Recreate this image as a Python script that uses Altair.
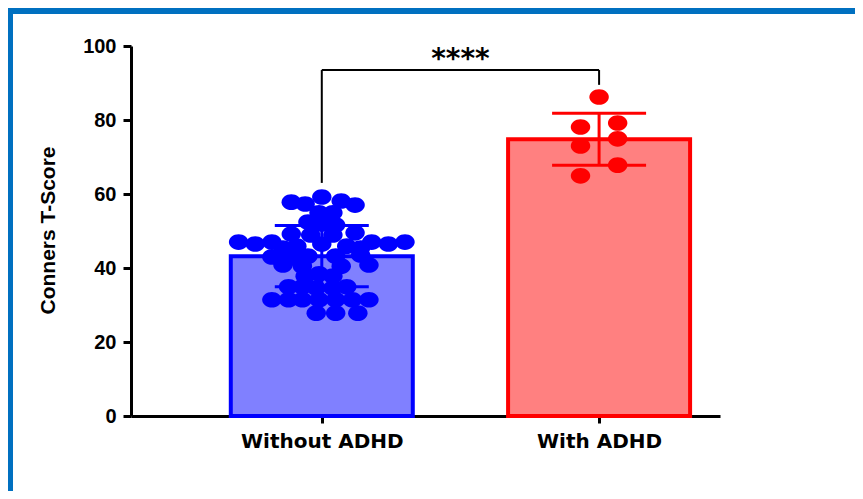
import altair as alt
import pandas as pd

# ---------------- data ----------------
groups = ["Without ADHD", "With ADHD"]
group_pos = [1, 2]
group_mean = [43.2, 74.8]
group_sd = [8.3, 7.0]
fill_colors = ["#8080FF", "#FF8080"]
line_colors = ["#0000FF", "#FF0000"]

without_scores = [57.8, 57.3, 59.2, 58.1, 57.0, 54.9, 54.9,
                  52.4, 51.9, 51.6,
                  49.2, 49.5, 48.9, 48.9,
                  47.0, 46.5, 47.0, 47.0, 46.5, 47.0,
                  45.4, 45.9, 45.9, 45.4, 46.5,
                  43.0, 42.7, 43.2, 43.2, 43.5,
                  40.8, 40.5, 40.5, 40.8,
                  37.8, 38.4, 37.8,
                  34.9, 34.9, 34.6, 34.6, 34.9,
                  31.4, 31.4, 31.4, 31.4, 31.4, 31.4, 31.4,
                  27.8, 27.8, 27.8]
without_offsets = [-0.11, -0.06, 0.00, 0.07, 0.12, -0.01, 0.04,
                   -0.05, 0.00, 0.05,
                   -0.11, 0.12, -0.04, 0.04,
                   -0.30, -0.24, -0.18, 0.18, 0.24, 0.30,
                   -0.14, -0.09, 0.09, 0.14, 0.00,
                   -0.18, -0.11, -0.05, 0.05, 0.14,
                   -0.14, -0.07, 0.07, 0.17,
                   -0.06, -0.01, 0.04,
                   -0.12, -0.07, -0.02, 0.04, 0.09,
                   -0.18, -0.12, -0.07, -0.01, 0.05, 0.11, 0.17,
                   -0.02, 0.05, 0.13]
with_scores = [86.2, 78.1, 79.2, 73.0, 74.9, 67.8, 64.9]
with_offsets = [0.0, -0.067, 0.067, -0.067, 0.067, 0.067, -0.067]

sig_label = "****"
bracket_level = 93.5
bracket_left_end = 63.0
bracket_right_end = 89.5

y_ticks = [0, 20, 40, 60, 80, 100]
y_title = "Conners T-Score"

# ---------------- tables ----------------
points = pd.DataFrame({
    "group": [groups[0]] * len(without_scores) + [groups[1]] * len(with_scores),
    "pos": [group_pos[0]] * len(without_scores) + [group_pos[1]] * len(with_scores),
    "offset": without_offsets + with_offsets,
    "score": without_scores + with_scores,
})
summary = pd.DataFrame({"group": groups, "pos": group_pos,
                        "mean": group_mean, "sd": group_sd})
bracket = pd.DataFrame({
    "x1": [group_pos[0], group_pos[0], group_pos[1]],
    "x2": [group_pos[1], group_pos[0], group_pos[1]],
    "y1": [bracket_level, bracket_left_end, bracket_right_end],
    "y2": [bracket_level, bracket_level, bracket_level],
})
sig = pd.DataFrame({"x": [sum(group_pos) / 2], "y": [bracket_level], "label": [sig_label]})

label_expr = "datum.value == %d ? '%s' : '%s'" % (group_pos[0], groups[0], groups[1])

x_scale = alt.Scale(domain=[0.33, 2.418], nice=False, zero=False)
y_scale = alt.Scale(domain=[0, 100], nice=False)

x_axis = alt.Axis(values=group_pos, labelExpr=label_expr, title=None, grid=False,
                  domainColor="black", domainWidth=3, tickColor="black", tickWidth=3,
                  tickSize=7, labelFont="DejaVu Sans", labelFontWeight="bold",
                  labelFontSize=20, labelColor="black", labelPadding=8, labelFlush=False)
y_axis = alt.Axis(values=y_ticks, title=y_title, grid=False,
                  domainColor="black", domainWidth=3, tickColor="black", tickWidth=3,
                  tickSize=8, labelFont="Liberation Sans", labelFontWeight="bold",
                  labelFontSize=20, labelColor="black", labelPadding=7,
                  titleFont="Liberation Sans", titleFontSize=21, titleFontWeight="bold",
                  titleColor="black", titleX=-83, titleY=184, titleAngle=-90,
                  titleAlign="center", titleBaseline="middle")

fill_scale = alt.Scale(domain=groups, range=fill_colors)
line_scale = alt.Scale(domain=groups, range=line_colors)

ellipse = "M -1 0 A 1 0.8 0 1 0 1 0 A 1 0.8 0 1 0 -1 0 Z"

bars = alt.Chart(summary).mark_bar(size=182, strokeWidth=4, orient="vertical").encode(
    x=alt.X("pos:Q", scale=x_scale, axis=x_axis),
    y=alt.Y("mean:Q", scale=y_scale, axis=y_axis),
    fill=alt.Fill("group:N", scale=fill_scale, legend=None),
    stroke=alt.Stroke("group:N", scale=line_scale, legend=None),
)

dots = alt.Chart(points).transform_calculate(
    xp="datum.pos + datum.offset"
).mark_point(shape=ellipse, size=380, filled=True, opacity=1, strokeWidth=0).encode(
    x=alt.X("xp:Q", scale=x_scale),
    y=alt.Y("score:Q", scale=y_scale),
    color=alt.Color("group:N", scale=line_scale, legend=None),
)

err_base = alt.Chart(summary).transform_calculate(
    lo="datum.mean - datum.sd", hi="datum.mean + datum.sd"
)
err_rule = err_base.mark_rule(strokeWidth=3).encode(
    x=alt.X("pos:Q", scale=x_scale),
    y=alt.Y("lo:Q", scale=y_scale),
    y2="hi:Q",
    color=alt.Color("group:N", scale=line_scale, legend=None),
)
err_caps = err_base.transform_fold(["lo", "hi"], as_=["end", "val"]).mark_tick(
    orient="horizontal", size=94, thickness=3, opacity=1
).encode(
    x=alt.X("pos:Q", scale=x_scale),
    y=alt.Y("val:Q", scale=y_scale),
    color=alt.Color("group:N", scale=line_scale, legend=None),
)

bracket_lines = alt.Chart(bracket).mark_rule(color="black", strokeWidth=2).encode(
    x=alt.X("x1:Q", scale=x_scale), x2="x2:Q",
    y=alt.Y("y1:Q", scale=y_scale), y2="y2:Q",
)
sig_text = alt.Chart(sig).mark_text(
    font="DejaVu Sans", fontWeight="bold", fontSize=28, color="black",
    baseline="alphabetic", dy=-2
).encode(
    x=alt.X("x:Q", scale=x_scale), y=alt.Y("y:Q", scale=y_scale), text="label:N"
)

border_top = alt.Chart(sig).mark_rule(color="#0070C0", strokeWidth=6).encode(
    x=alt.value(-123), x2=alt.value(724), y=alt.value(-35)
)
border_left = alt.Chart(sig).mark_rule(color="#0070C0", strokeWidth=5).encode(
    x=alt.value(-120.5), y=alt.value(-38), y2=alt.value(445)
)

chart = alt.layer(
    border_top, border_left, bars, err_rule, err_caps, dots, bracket_lines, sig_text
).properties(
    width=589, height=370,
    autosize=alt.AutoSizeParams(type="none"),
    padding={"left": 123, "top": 38, "right": 135, "bottom": 75},
    background="white",
).configure_view(stroke=None)

chart.save("out.html", embed_options={"renderer": "svg", "actions": False})
